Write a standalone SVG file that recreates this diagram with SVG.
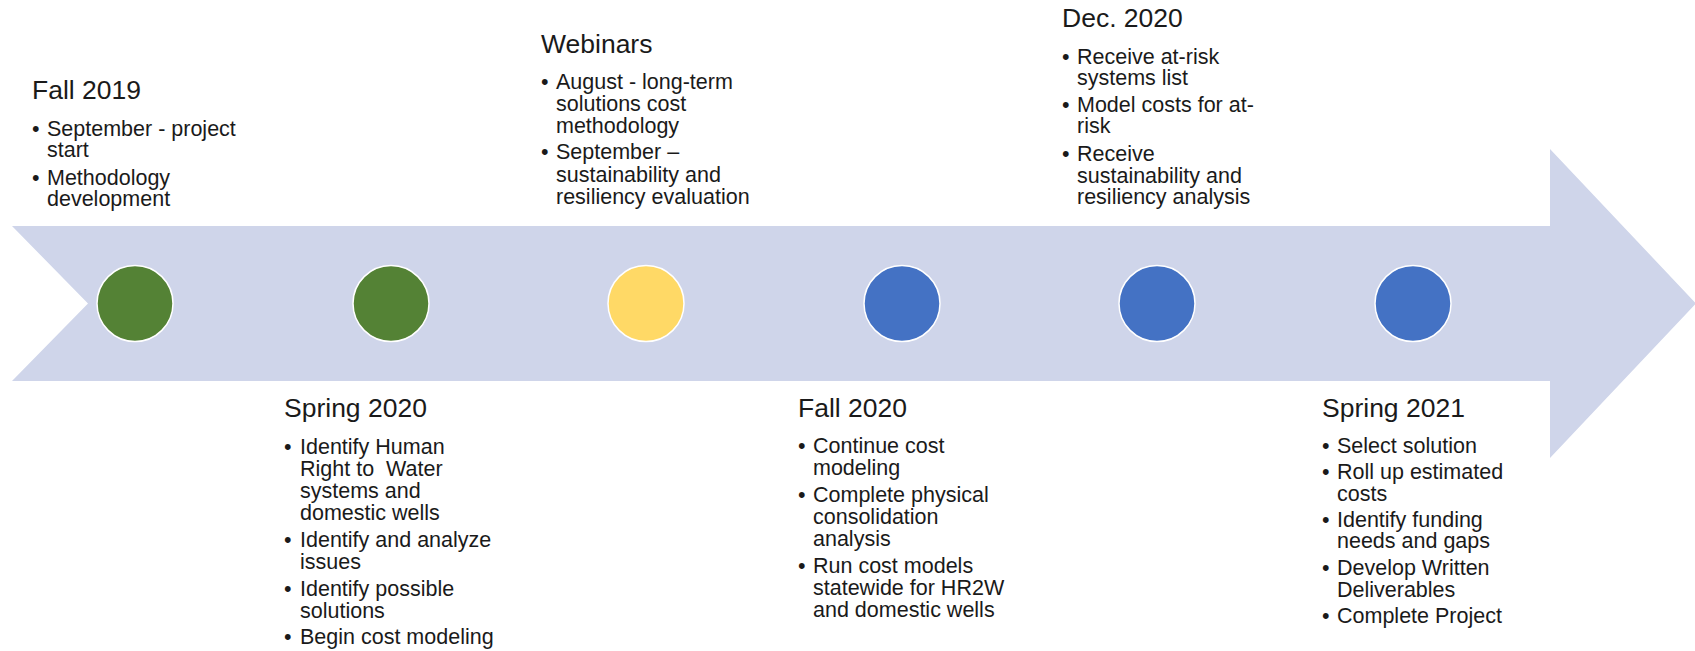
<svg xmlns="http://www.w3.org/2000/svg" width="1695" height="651" viewBox="0 0 1695 651">
<style>
.t{font-family:"Liberation Sans",Arial,sans-serif;font-size:26.5px;fill:#1a1a1a}
.b{font-family:"Liberation Sans",Arial,sans-serif;font-size:21.5px;fill:#1a1a1a}
.c{stroke:#ffffff;stroke-width:1.5}
.g{fill:#548235}.y{fill:#FFD966}.u{fill:#4472C4}
</style>
<rect width="1695" height="651" fill="#ffffff"/>
<g id="arrow">
<polygon points="12,226 1550,226 1550,149 1696,303.5 1550,458 1550,381 12,381 88,303.5" fill="#CFD5EA"/>
</g>
<g id="connectors"></g>
<g id="n1">
<circle class="c g" cx="135" cy="303.5" r="38"/>
<text class="t" x="32" y="99">Fall 2019</text>
<text class="b"><tspan x="32" y="136">•</tspan><tspan x="47" y="136">September - project</tspan><tspan x="47" y="157">start</tspan><tspan x="32" y="185">•</tspan><tspan x="47" y="185">Methodology</tspan><tspan x="47" y="206">development</tspan></text>
</g>
<g id="n2">
<circle class="c g" cx="391" cy="303.5" r="38"/>
<text class="t" x="284" y="417">Spring 2020</text>
<text class="b"><tspan x="284" y="454">•</tspan><tspan x="300" y="454">Identify Human</tspan><tspan x="300" y="476">Right to &#160;Water</tspan><tspan x="300" y="498">systems and</tspan><tspan x="300" y="520">domestic wells</tspan><tspan x="284" y="547">•</tspan><tspan x="300" y="547">Identify and analyze</tspan><tspan x="300" y="569">issues</tspan><tspan x="284" y="596">•</tspan><tspan x="300" y="596">Identify possible</tspan><tspan x="300" y="618">solutions</tspan><tspan x="284" y="644">•</tspan><tspan x="300" y="644">Begin cost modeling</tspan></text>
</g>
<g id="n3">
<circle class="c y" cx="646" cy="303.5" r="38"/>
<text class="t" x="541" y="53">Webinars</text>
<text class="b"><tspan x="541" y="89">•</tspan><tspan x="556" y="89">August - long-term</tspan><tspan x="556" y="111">solutions cost</tspan><tspan x="556" y="133">methodology</tspan><tspan x="541" y="159">•</tspan><tspan x="556" y="159">September –</tspan><tspan x="556" y="182">sustainability and</tspan><tspan x="556" y="204">resiliency evaluation</tspan></text>
</g>
<g id="n4">
<circle class="c u" cx="902" cy="303.5" r="38"/>
<text class="t" x="798" y="417">Fall 2020</text>
<text class="b"><tspan x="798" y="453">•</tspan><tspan x="813" y="453">Continue cost</tspan><tspan x="813" y="475">modeling</tspan><tspan x="798" y="502">•</tspan><tspan x="813" y="502">Complete physical</tspan><tspan x="813" y="524">consolidation</tspan><tspan x="813" y="546">analysis</tspan><tspan x="798" y="573">•</tspan><tspan x="813" y="573">Run cost models</tspan><tspan x="813" y="595">statewide for HR2W</tspan><tspan x="813" y="617">and domestic wells</tspan></text>
</g>
<g id="n5">
<circle class="c u" cx="1157" cy="303.5" r="38"/>
<text class="t" x="1062" y="27">Dec. 2020</text>
<text class="b"><tspan x="1062" y="64">•</tspan><tspan x="1077" y="64">Receive at-risk</tspan><tspan x="1077" y="85">systems list</tspan><tspan x="1062" y="112">•</tspan><tspan x="1077" y="112">Model costs for at-</tspan><tspan x="1077" y="133">risk</tspan><tspan x="1062" y="161">•</tspan><tspan x="1077" y="161">Receive</tspan><tspan x="1077" y="183">sustainability and</tspan><tspan x="1077" y="204">resiliency analysis</tspan></text>
</g>
<g id="n6">
<circle class="c u" cx="1413" cy="303.5" r="38"/>
<text class="t" x="1322" y="417">Spring 2021</text>
<text class="b"><tspan x="1322" y="453">•</tspan><tspan x="1337" y="453">Select solution</tspan><tspan x="1322" y="479">•</tspan><tspan x="1337" y="479">Roll up estimated</tspan><tspan x="1337" y="501">costs</tspan><tspan x="1322" y="527">•</tspan><tspan x="1337" y="527">Identify funding</tspan><tspan x="1337" y="548">needs and gaps</tspan><tspan x="1322" y="575">•</tspan><tspan x="1337" y="575">Develop Written</tspan><tspan x="1337" y="597">Deliverables</tspan><tspan x="1322" y="623">•</tspan><tspan x="1337" y="623">Complete Project</tspan></text>
</g>
</svg>
